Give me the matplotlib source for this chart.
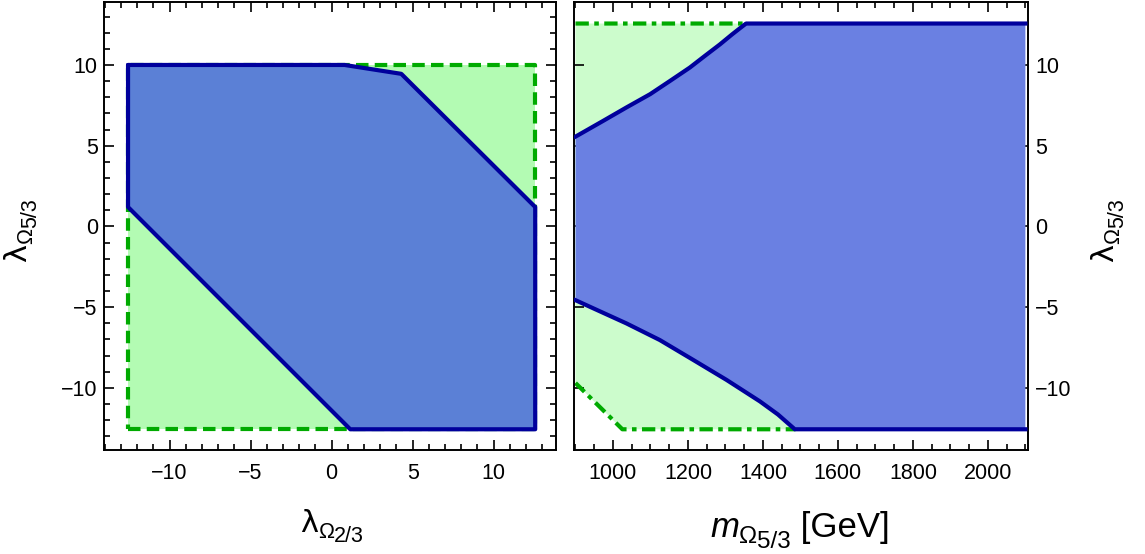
import matplotlib
matplotlib.use("Agg")
import matplotlib.pyplot as plt
import matplotlib.ticker as mticker
import numpy as np

plt.rcParams['font.family'] = ['Liberation Sans', 'DejaVu Sans']

FP = 4 * np.pi  # perturbativity bound

# ---- left panel data (lambda_{2/3}, lambda_{5/3}) ----
left_green_x = [-FP, FP, FP, -FP, -FP]
left_green_y = [-FP, -FP, 10, 10, -FP]
left_blue_x = [-FP, 0.8, 4.3, FP, FP, 1.15, -FP, -FP]
left_blue_y = [10, 10, 9.45, 1.2, -FP, -FP, 1.2, 10]

# ---- right panel data (m [GeV], lambda_{5/3}) ----
right_green_x = [900, 1355, 1485, 1025, 900, 900]
right_green_y = [FP, FP, -FP, -FP, -9.7, FP]
upper_m = [900, 974, 1036, 1099, 1152, 1205, 1245, 1285, 1318, 1340, 1355, 2100]
upper_l = [5.56, 6.54, 7.37, 8.19, 9.01, 9.84, 10.56, 11.27, 11.9, 12.3, FP, FP]
lower_m = [900, 948, 1036, 1125, 1214, 1303, 1392, 1440, 1485, 2100]
lower_l = [-4.57, -5.08, -6.01, -7.04, -8.27, -9.51, -10.84, -11.65, -FP, -FP]

left_xticks = [-10, -5, 0, 5, 10]
yticks = [-10, -5, 0, 5, 10]
tick_labels_pm = ['\u221210', '\u22125', '0', '5', '10']
right_xticks = [1000, 1200, 1400, 1600, 1800, 2000]

blue_line = '#00009c'
green_line = '#00aa00'
W, H = 1145, 554

fig = plt.figure(figsize=(11.45, 5.54), dpi=100)
axL = fig.add_axes([104/W, 1-450/H, (556-104)/W, 448/H])
axR = fig.add_axes([574/W, 1-450/H, (1028-574)/W, 448/H])

LW = 3.0
# left
axL.fill(left_green_x, left_green_y, color='#b3fbb3', lw=0, zorder=1)
axL.plot(left_green_x, left_green_y, color=green_line, lw=LW, ls=(0, (3.0, 1.5)), zorder=2)
axL.fill(left_blue_x, left_blue_y, color='#5b80d6', lw=0, zorder=3)
axL.plot(left_blue_x, left_blue_y, color=blue_line, lw=LW, zorder=4,
         solid_joinstyle='round', solid_capstyle='round')
axL.set_xlim(-14.05, 13.85)
axL.set_ylim(-13.85, 13.9)

# right
axR.fill(right_green_x, right_green_y, color='#ccfccc', lw=0, zorder=1)
axR.plot(right_green_x[:5], right_green_y[:5], color=green_line, lw=LW,
         ls=(0, (3.2, 1.3, 1.1, 1.3)), zorder=2)
poly_m = upper_m + lower_m[::-1]
poly_l = upper_l + lower_l[::-1]
axR.fill(poly_m, poly_l, color='#6a80e2', lw=0, zorder=3)
axR.plot(upper_m, upper_l, color=blue_line, lw=LW, zorder=4, solid_joinstyle='round')
axR.plot(lower_m, lower_l, color=blue_line, lw=LW, zorder=4, solid_joinstyle='round')
axR.set_xlim(896, 2107)
axR.set_ylim(-13.85, 13.9)

for ax in (axL, axR):
    ax.set_yticks(yticks)
    ax.tick_params(which='both', direction='in', top=True, right=True, labelsize=15.5,
                   width=1.2, color='black')
    ax.tick_params(which='major', length=7)
    ax.tick_params(which='minor', length=4)
    for s in ax.spines.values():
        s.set_linewidth(1.4)
    ax.tick_params(axis='x', pad=9.5)

axL.yaxis.set_minor_locator(mticker.MultipleLocator(1))
axL.tick_params(axis='y', pad=4.5)
axL.set_xticks(left_xticks)
axL.xaxis.set_minor_locator(mticker.MultipleLocator(1))
axL.set_xticklabels(tick_labels_pm)
axL.set_yticklabels(tick_labels_pm)
axR.set_xticks(right_xticks)
axR.xaxis.set_minor_locator(mticker.MultipleLocator(50))
axR.yaxis.tick_right()
axR.tick_params(which='both', left=True, right=True)
axR.tick_params(axis='y', pad=5)
axR.set_yticklabels(tick_labels_pm)

renderer = fig.canvas.get_renderer()


def composite_label(x0, y0, pieces, rotation=0):
    """pieces: (text, fontsize, style, family, baseline offset px). x0,y0 px from top-left."""
    cur = 0.0
    for s, size, style, fam, dy in pieces:
        if rotation == 0:
            x, y = x0 + cur, (H - y0) + dy
        else:
            x, y = x0 - dy, (H - y0) + cur
        t = fig.text(x / W, y / H, s, fontsize=size, fontstyle=style, family=fam,
                     ha='left', va='baseline', rotation=0, rotation_mode='anchor')
        w = t.get_window_extent(renderer).width
        t.set_rotation(rotation)
        cur += w


SANS = ['Liberation Sans', 'DejaVu Sans']
lam_pieces = lambda sub: [('λ', 22, 'normal', ['DejaVu Sans'], 0),
                          ('Ω', 15.5, 'normal', SANS, -6),
                          (sub, 15.5, 'normal', SANS, -10)]
composite_label(300, 532, lam_pieces('2/3'))
composite_label(26, 262, lam_pieces('5/3'), rotation=90)
composite_label(1113, 262, lam_pieces('5/3'), rotation=90)
composite_label(710, 537, [('m', 25, 'italic', SANS, 0), ('Ω', 17.5, 'normal', SANS, -6),
                           ('5/3', 17.5, 'normal', SANS, -11),
                           (' [GeV]', 25, 'normal', SANS, 0)])

fig.savefig('out.png', dpi=100)
